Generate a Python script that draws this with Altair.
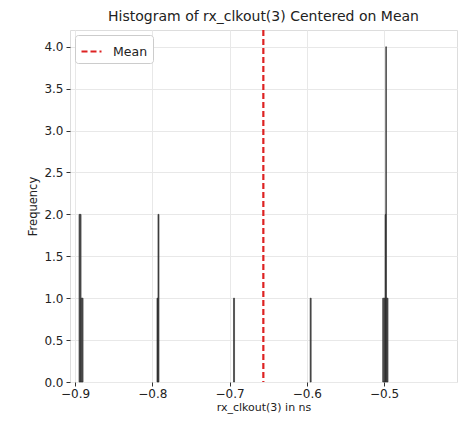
import altair as alt
import pandas as pd

# histogram bins
bin_lo = [-0.8948, -0.8922, -0.7939, -0.7926, -0.6948, -0.5956, -0.5017, -0.4985, -0.4977, -0.4969]
bin_hi = [-0.8922, -0.8896, -0.7926, -0.7913, -0.6935, -0.5943, -0.4985, -0.4977, -0.4969, -0.4948]
counts = [2, 1, 1, 2, 1, 1, 1, 2, 4, 1]

mean_value = [-0.6562]
mean_label = ["Mean"]

x_ticks = [-0.9, -0.8, -0.7, -0.6, -0.5]
y_ticks = [0.0, 0.5, 1.0, 1.5, 2.0, 2.5, 3.0, 3.5, 4.0]

bars_df = pd.DataFrame({"lo": bin_lo, "hi": bin_hi, "count": counts})
mean_df = pd.DataFrame({"mean": mean_value, "label": mean_label})

xscale = alt.Scale(domain=[-0.9065, -0.4055], nice=False, zero=False)
yscale = alt.Scale(domain=[0, 4.2], nice=False)

FONT = "DejaVu Sans"

xaxis = alt.Axis(values=x_ticks, format=".1f", title="rx_clkout(3) in ns",
                 grid=True, gridColor="#e8e8e8", tickColor="#333", tickSize=4,
                 labelFontSize=12, titleFontSize=11, labelColor="#222", titleColor="#222",
                 labelFont=FONT, titleFont=FONT, titleFontWeight="normal",
                 domain=False, labelPadding=2, titlePadding=2)
yaxis = alt.Axis(values=y_ticks, format=".1f", title="Frequency",
                 grid=True, gridColor="#e8e8e8", tickColor="#333", tickSize=4,
                 labelFontSize=12, titleFontSize=11.5, labelColor="#222", titleColor="#222",
                 labelFont=FONT, titleFont=FONT, titleFontWeight="normal",
                 domain=False, labelPadding=3, titlePadding=5)

bars = alt.Chart(bars_df).mark_rect(fill="#555555", stroke="#222222", strokeWidth=0.6).encode(
    x=alt.X("lo:Q", scale=xscale, axis=xaxis),
    x2="hi:Q",
    y=alt.Y("count:Q", scale=yscale, axis=yaxis),
    y2=alt.datum(0),
)

mean_rule = alt.Chart(mean_df).mark_rule(strokeDash=[6, 3], strokeWidth=2.2).encode(
    x=alt.X("mean:Q", scale=xscale),
    color=alt.Color("label:N", scale=alt.Scale(range=["#dd2222"]),
                    legend=alt.Legend(title=None, orient="top-left", symbolType="stroke",
                                      symbolDash=[6, 3], symbolStrokeWidth=2.2, symbolSize=400,
                                      fillColor="white", strokeColor="#cccccc", padding=5,
                                      cornerRadius=3, labelFontSize=12.5, labelFont=FONT,
                                      labelColor="#222", labelOffset=10, offset=5)),
)

chart = alt.layer(bars, mean_rule).properties(
    width=387, height=352,
    title=alt.TitleParams("Histogram of rx_clkout(3) Centered on Mean", fontSize=14,
                          font=FONT, fontWeight="normal", color="#222", offset=5),
    autosize=alt.AutoSizeParams(type="none"),
    padding={"left": 62, "top": 22, "right": 4, "bottom": 33},
).configure_view(stroke="#444444", strokeWidth=1).configure(background="white")

chart.save("out.html", embed_options={"renderer": "svg", "actions": False})
